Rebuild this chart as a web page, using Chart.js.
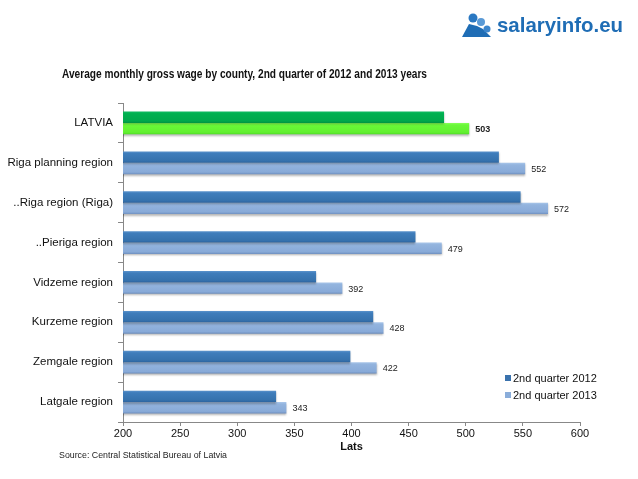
<!DOCTYPE html>
<html>
<head>
<meta charset="utf-8">
<script src="https://cdn.jsdelivr.net/npm/chart.js@4"></script>
<style>
  html, body { margin: 0; padding: 0; background: #fff; }
  #wrap { position: relative; width: 638px; height: 479px; font-family: "Liberation Sans", Arial, sans-serif; color: #111; }
  #wrap canvas { position: absolute; left: 0; top: 0; }
  .txt { position: absolute; white-space: nowrap; transform-origin: left center; }
  #title { left: 62px; top: 68px; font-size: 12px; line-height: 13px; font-weight: bold; }
  #source { left: 59px; top: 450px; font-size: 8.5px; line-height: 10px; color: #222; }
  #logo { position: absolute; left: 461px; top: 12px; }
  #logoText { left: 497px; top: 13px; font-size: 21px; line-height: 24px; font-weight: bold; color: #1f6db5; }
  .leg { position: absolute; left: 505px; font-size: 11px; line-height: 13px; color: #111; white-space: nowrap; }
  .leg i { display: inline-block; width: 6px; height: 6px; margin-right: 2px; vertical-align: 1px; }
</style>
</head>
<body>
<div id="wrap">
  <canvas id="chart" width="638" height="479"></canvas>
  <svg id="logo" width="34" height="26" viewBox="0 0 34 26">
    <circle cx="12" cy="6" r="4.5" fill="#2a78c2"/>
    <circle cx="20" cy="10" r="4" fill="#5a9ad6"/>
    <path d="M1 25 L8 12 L16 14 L22 17 L30 25 Z" fill="#1f6db5"/>
    <circle cx="26" cy="17" r="3.5" fill="#3d86cc"/>
  </svg>
  <div id="logoText" class="txt">salaryinfo.eu</div>
  <div id="title" class="txt">Average monthly gross wage by county, 2nd quarter of 2012 and 2013 years</div>
  <div id="source" class="txt">Source: Central Statistical Bureau of Latvia</div>
  <div class="leg" style="top:372px"><i style="background:#3a72ad"></i>2nd quarter 2012</div>
  <div class="leg" style="top:389px"><i style="background:#8aadda"></i>2nd quarter 2013</div>
</div>
<script>
const regions = ['LATVIA', 'Riga planning region', '..Riga region (Riga)', '..Pieriga region',
  'Vidzeme region', 'Kurzeme region', 'Zemgale region', 'Latgale region'];
const wage2012 = [481, 529, 548, 456, 369, 419, 399, 334];
const wage2013 = [503, 552, 572, 479, 392, 428, 422, 343];
const xTicks = [200, 250, 300, 350, 400, 450, 500, 550, 600];

// squeeze a text element to the width it has in the picture
function fitWidth(id, w) {
  const el = document.getElementById(id);
  const r = el.getBoundingClientRect().width;
  el.style.transform = 'scaleX(' + (w / r) + ')';
}
fitWidth('title', 365);
fitWidth('source', 168);
fitWidth('logoText', 126);

// gradient stops, top to bottom, for [dataset][latvia or region]
const shades = [
  [['#10bb62', '#00b050', '#00a84c', '#009442'], ['#5b93cc', '#3f7dbb', '#3672ad', '#2c64a0']],
  [['#88ff5a', '#6af838', '#62f030', '#50dc28'], ['#a9c6ea', '#93b4de', '#88aad8', '#6f90c0']]
];

// paint each bar with a soft vertical gradient
const barGradient = {
  id: 'barGradient',
  beforeDatasetsDraw(chart) {
    const ctx = chart.ctx;
    [0, 1].forEach(d => {
      chart.getDatasetMeta(d).data.forEach((bar, i) => {
        const h = bar.height;
        const s = shades[d][i === 0 ? 0 : 1];
        const g = ctx.createLinearGradient(0, bar.y - h / 2, 0, bar.y + h / 2);
        g.addColorStop(0, s[0]);
        g.addColorStop(0.18, s[1]);
        g.addColorStop(0.82, s[2]);
        g.addColorStop(1, s[3]);
        bar.options.backgroundColor = g;
      });
    });
  }
};

// value labels at the end of the 2013 bars
const endLabels = {
  id: 'endLabels',
  afterDatasetsDraw(chart) {
    const ctx = chart.ctx;
    const meta = chart.getDatasetMeta(1);
    ctx.save();
    ctx.fillStyle = '#222';
    ctx.textBaseline = 'middle';
    meta.data.forEach((bar, i) => {
      ctx.font = (i === 0 ? 'bold ' : '') + '9px "Liberation Sans", Arial, sans-serif';
      ctx.fillText(wage2013[i], bar.x + 6, bar.y + 1);
    });
    ctx.restore();
  }
};

// soft shadow under the bars
const barShadow = {
  id: 'barShadow',
  beforeDatasetsDraw(chart) {
    const ctx = chart.ctx;
    ctx.save();
    ctx.shadowColor = 'rgba(0,0,0,0.3)';
    ctx.shadowOffsetY = 1.5;
    ctx.shadowBlur = 2;
  },
  afterDatasetsDraw(chart) {
    chart.ctx.restore();
  }
};

new Chart(document.getElementById('chart'), {
  type: 'bar',
  data: {
    labels: regions,
    datasets: [
      {
        label: '2nd quarter 2012',
        data: wage2012,
        backgroundColor: regions.map((r, i) => i === 0 ? '#00b050' : '#3a72ad'),
        categoryPercentage: 0.57,
        barPercentage: 1
      },
      {
        label: '2nd quarter 2013',
        data: wage2013,
        backgroundColor: regions.map((r, i) => i === 0 ? '#66f533' : '#8aadda'),
        categoryPercentage: 0.57,
        barPercentage: 1
      }
    ]
  },
  options: {
    indexAxis: 'y',
    responsive: false,
    animation: false,
    layout: { padding: { top: 103, right: 58, left: 0, bottom: 0 } },
    plugins: {
      legend: { display: false },
      title: { display: false },
      tooltip: { enabled: false }
    },
    scales: {
      x: {
        min: 200,
        max: 600,
        afterBuildTicks: scale => { scale.ticks = xTicks.map(v => ({ value: v })); },
        afterFit: scale => { scale.height = 57; },
        grid: { display: true, drawOnChartArea: false, drawTicks: true, tickLength: 4, color: '#888' },
        border: { color: '#888' },
        ticks: { color: '#111', font: { size: 11, family: '"Liberation Sans", Arial, sans-serif' }, padding: 1 },
        title: {
          display: true,
          text: 'Lats',
          color: '#111',
          font: { size: 11, weight: 'bold', family: '"Liberation Sans", Arial, sans-serif' },
          padding: { top: 0, bottom: 25 }
        }
      },
      y: {
        afterFit: scale => { scale.width = 123; },
        grid: { display: true, drawOnChartArea: false, offset: true, tickLength: 5, color: '#888' },
        border: { color: '#888' },
        ticks: { color: '#111', font: { size: 11.5, family: '"Liberation Sans", Arial, sans-serif' }, padding: 5 }
      }
    }
  },
  plugins: [barGradient, barShadow, endLabels]
});
</script>
</body>
</html>
